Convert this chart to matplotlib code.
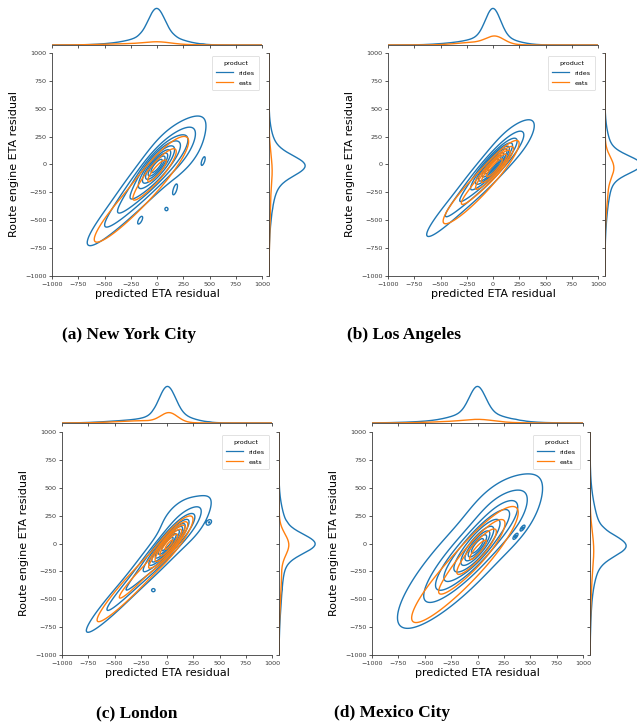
import numpy as np
import matplotlib
matplotlib.use("Agg")
import matplotlib.pyplot as plt

# figure size in pixels (dpi 100)
W, H = 637, 725

ticks = [-1000, -750, -500, -250, 0, 250, 500, 750, 1000]
products = ["rides", "eats"]
colors = ["#1f77b4", "#ff7f0e"]
captions = ["(a) New York City", "(b) Los Angeles", "(c) London", "(d) Mexico City"]

# density components, placed along the diagonal:
# (weight, position along diagonal u, offset across it v, sd along, sd across, angle deg)
nyc_rides = [(0.40, -10, -5, 110, 35, 49), (0.28, -40, -25, 240, 60, 46),
             (0.08, 200, -40, 200, 110, 45), (0.10, -400, -45, 300, 55, 45),
             (0.0006, 332, -290, 25, 8, 70), (0.0008, -467, -240, 30, 12, 60),
             (0.0010, -42, -283, 45, 15, 70), (0.0003, -219, -346, 12, 12, 0)]
nyc_eats = [(0.05, -16, -34, 170, 45, 48), (0.08, -320, -70, 400, 70, 45)]

la_rides = [(0.38, 0, 0, 100, 25, 47), (0.24, -30, -5, 220, 50, 46),
            (0.05, 250, 10, 180, 80, 45), (0.09, -420, -10, 280, 45, 45)]
la_eats = [(0.12, 0, -30, 120, 28, 47), (0.10, -250, -40, 260, 50, 45)]

ldn_rides = [(0.36, 0, -5, 110, 26, 48), (0.20, -20, -10, 230, 50, 46),
             (0.07, 250, 30, 180, 110, 45), (0.10, -500, -20, 330, 45, 45),
             (0.0006, 417, -150, 15, 10, 45), (0.0004, -388, -204, 12, 10, 0)]
ldn_eats = [(0.13, 10, -20, 120, 30, 50), (0.09, -380, -25, 330, 45, 45)]

mex_rides = [(0.33, -15, -15, 110, 35, 50), (0.26, -40, -10, 260, 65, 46),
             (0.18, -150, 0, 500, 140, 45), (0.05, 350, 20, 200, 130, 45),
             (0.0006, 300, -210, 20, 8, 50), (0.0006, 400, -205, 20, 8, 50)]
mex_eats = [(0.05, -10, -40, 190, 50, 48), (0.08, -250, -60, 380, 80, 45)]

city_data = [(nyc_rides, nyc_eats), (la_rides, la_eats),
             (ldn_rides, ldn_eats), (mex_rides, mex_eats)]

# pixel boxes: main axes (left, right, top, bottom), top margin baseline
panels = [(52, 262, 53, 276, 45), (388, 598, 53, 276, 45),
          (62, 272, 432, 655, 423), (372, 583, 432, 655, 423)]
caption_pos = [(129, 335), (404, 335), (137, 713), (392, 713)]

grid = np.linspace(-1000, 1000, 321)
xx, yy = np.meshgrid(grid, grid)


def mixture(comps):
    dens = np.zeros_like(xx)
    for w, u0, v0, s1, s2, ang in comps:
        mx = (u0 - v0) / np.sqrt(2)
        my = (u0 + v0) / np.sqrt(2)
        a = np.deg2rad(ang)
        u = (xx - mx) * np.cos(a) + (yy - my) * np.sin(a)
        v = -(xx - mx) * np.sin(a) + (yy - my) * np.cos(a)
        dens += w / (2 * np.pi * s1 * s2) * np.exp(-0.5 * ((u / s1) ** 2 + (v / s2) ** 2))
    return dens


# iso-proportion levels shared by both products, as seaborn does
def iso_levels(dens_list, n=10, thresh=0.05):
    vals = np.concatenate([d.ravel() for d in dens_list])
    srt = np.sort(vals)[::-1]
    cum = np.cumsum(srt) / vals.sum()
    q = np.linspace(thresh, 1, n)
    idx = np.searchsorted(cum, 1 - q)
    return np.unique(np.take(srt, idx, mode="clip"))


def box(fig, l, r, t, b):
    return fig.add_axes([l / W, 1 - b / H, (r - l) / W, (b - t) / H])


fig = plt.figure(figsize=(W / 100, H / 100), dpi=100)
spine_c = "#3a3a3a"

for (l, r, t, b, mt), (rides, eats), cap, (cx, cy) in zip(panels, city_data, captions, caption_pos):
    ax = box(fig, l, r, t, b)
    mh = (b - t) / 5
    ax_top = box(fig, l, r, mt - mh, mt)
    ax_right = box(fig, r + 7, r + 7 + mh, t, b)

    dens = [mixture(rides), mixture(eats)]
    levels = iso_levels(dens)
    step = grid[1] - grid[0]
    mx_list = [d.sum(axis=0) * step for d in dens]
    my_list = [d.sum(axis=1) * step for d in dens]

    for d, c, name in zip(dens, colors, products):
        ax.contour(xx, yy, d, levels=levels, colors=c, linewidths=1.0)
        ax.plot([], [], color=c, lw=0.9, label=name)
    for mxd, myd, c in zip(mx_list, my_list, colors):
        ax_top.plot(grid, mxd, color=c, lw=1.0)
        ax_right.plot(myd, grid, color=c, lw=1.0)

    ax.set_xlim(-1000, 1000)
    ax.set_ylim(-1000, 1000)
    ax.set_xticks(ticks)
    ax.set_yticks(ticks)
    ax.tick_params(labelsize=4.6, length=2.5, width=0.6, colors=spine_c, pad=1.5)
    ax.set_xlabel("predicted ETA residual", fontsize=8, labelpad=2)
    ax.set_ylabel("Route engine ETA residual", fontsize=8, labelpad=4)
    for s in ["top", "right"]:
        ax.spines[s].set_visible(False)
    for s in ["left", "bottom"]:
        ax.spines[s].set_color(spine_c)
        ax.spines[s].set_linewidth(0.6)
    leg = ax.legend(title="product", loc="upper right", fontsize=4.6, title_fontsize=4.6,
                    handlelength=2.6, borderpad=0.7, labelspacing=0.7, frameon=True)
    leg.get_frame().set_linewidth(0.5)

    peak_x = max(m.max() for m in mx_list)
    peak_y = max(m.max() for m in my_list)
    ax_top.set_xlim(-1000, 1000)
    ax_top.set_ylim(0, peak_x / 0.82)
    ax_top.set_xticks(ticks)
    ax_top.set_xticklabels([])
    ax_top.set_yticks([])
    ax_top.tick_params(length=2.5, width=0.6, colors=spine_c)
    for s in ["top", "right", "left"]:
        ax_top.spines[s].set_visible(False)
    ax_top.spines["bottom"].set_color(spine_c)
    ax_top.spines["bottom"].set_linewidth(0.6)

    ax_right.set_ylim(-1000, 1000)
    ax_right.set_xlim(0, peak_y / 0.81)
    ax_right.set_yticks(ticks)
    ax_right.set_yticklabels([])
    ax_right.set_xticks([])
    ax_right.tick_params(length=2.5, width=0.6, colors=spine_c)
    for s in ["top", "right", "bottom"]:
        ax_right.spines[s].set_visible(False)
    ax_right.spines["left"].set_color(spine_c)
    ax_right.spines["left"].set_linewidth(0.6)

    fig.text(cx / W, 1 - cy / H, cap, ha="center", va="center",
             family="Liberation Serif", fontweight="bold", fontsize=12.5)

fig.savefig("out.png", dpi=100)
